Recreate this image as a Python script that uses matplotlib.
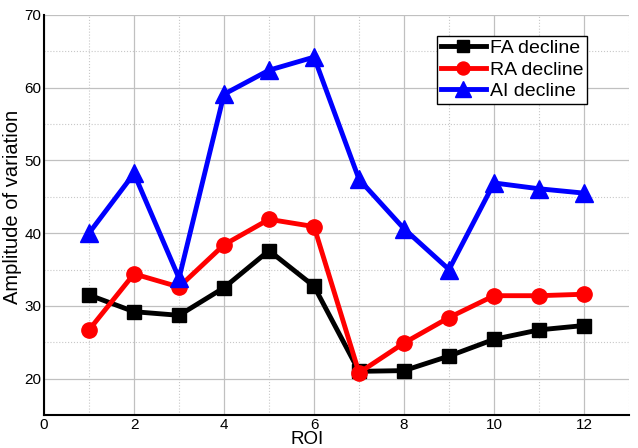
import matplotlib
matplotlib.use("Agg")
import matplotlib.pyplot as plt
from matplotlib.ticker import MultipleLocator

plt.rcParams['font.family'] = ['Liberation Sans', 'DejaVu Sans']

roi = [1, 2, 3, 4, 5, 6, 7, 8, 9, 10, 11, 12]
fa = [31.5, 29.2, 28.7, 32.5, 37.6, 32.7, 21.0, 21.1, 23.1, 25.4, 26.7, 27.3]
ra = [26.7, 34.4, 32.6, 38.4, 41.9, 40.9, 20.8, 24.9, 28.4, 31.4, 31.4, 31.6]
ai = [40.0, 48.2, 33.8, 59.1, 62.4, 64.2, 47.4, 40.6, 35.0, 46.9, 46.1, 45.5]

fig = plt.figure(figsize=(6.38, 4.48), dpi=100)
ax = fig.add_axes([0.069, 0.0737, 0.917, 0.893])

ax.plot(roi, fa, color='black', lw=3.5, marker='s', ms=10, label='FA decline')
ax.plot(roi, ra, color='red', lw=3.5, marker='o', ms=11, label='RA decline')
ax.plot(roi, ai, color='blue', lw=3.5, marker='^', ms=13, label='AI decline')

ax.set_xlim(0, 13)
ax.set_ylim(15, 70)
ax.xaxis.set_major_locator(MultipleLocator(2))
ax.xaxis.set_minor_locator(MultipleLocator(1))
ax.yaxis.set_major_locator(MultipleLocator(10))
ax.yaxis.set_minor_locator(MultipleLocator(5))
ax.set_yticks([20, 30, 40, 50, 60, 70])
ax.grid(which='major', color='#c0c0c0', lw=0.9, ls='-')
ax.grid(which='minor', color='#c8c8c8', lw=0.8, ls=':')
ax.set_axisbelow(True)
for s in ['top', 'right']:
    ax.spines[s].set_visible(False)
for s in ['left', 'bottom']:
    ax.spines[s].set_linewidth(1.5)
ax.tick_params(which='both', length=0, labelsize=11, pad=2)
ax.set_xlabel('ROI', fontsize=13.5, labelpad=0)
ax.xaxis.set_label_coords(0.45, -0.04)
ax.set_ylabel('Amplitude of variation', fontsize=14.5)
ax.yaxis.set_label_coords(-0.037, 0.52)

leg = ax.legend(loc='upper right', bbox_to_anchor=(0.928, 0.948), fontsize=14,
                fancybox=False, edgecolor='black', framealpha=1,
                handlelength=2.3, borderpad=0.2, labelspacing=0.2,
                handletextpad=0.2, borderaxespad=0, markerscale=0.85)
leg.get_frame().set_linewidth(1.0)

fig.savefig('out.png', dpi=100)
